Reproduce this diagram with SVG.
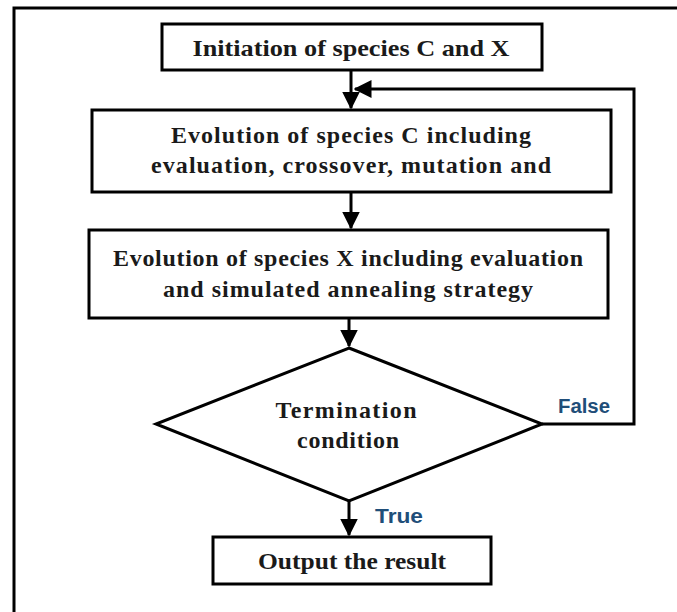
<svg xmlns="http://www.w3.org/2000/svg" width="677" height="612" viewBox="0 0 677 612">
<defs>
<style>
.box{fill:#fff;stroke:#000;stroke-width:3}
.frame{fill:none;stroke:#000;stroke-width:3}
.t{font-family:"Liberation Serif","Times New Roman",serif;font-weight:bold;font-size:24px;fill:#1a1a1a;text-anchor:middle}
.lbl{font-family:"Liberation Sans",Arial,sans-serif;font-weight:bold;font-size:20px;fill:#1f4e79}
.c{fill:none;stroke:#000;stroke-width:3}
</style>
<marker id="ah" markerWidth="6" markerHeight="6" refX="5.5" refY="3" orient="auto" markerUnits="strokeWidth" viewBox="0 0 6 6">
<path d="M0,0 L6,3 L0,6 Z" fill="#000"/>
</marker>
</defs>
<rect width="677" height="612" fill="#fff"/>
<path class="frame" d="M14,620 V8 H690"/>
<g id="connectors">
<line class="c" x1="351" y1="70" x2="351" y2="108" marker-end="url(#ah)"/>
<polyline class="c" points="542,424 634,424 634,89 355,89" marker-end="url(#ah)"/>
<line class="c" x1="351" y1="192" x2="351" y2="228" marker-end="url(#ah)"/>
<line class="c" x1="349" y1="318" x2="349" y2="346" marker-end="url(#ah)"/>
<line class="c" x1="349" y1="501" x2="349" y2="535" marker-end="url(#ah)"/>
<text class="lbl" x="558" y="413" textLength="52" lengthAdjust="spacingAndGlyphs">False</text>
<text class="lbl" x="375" y="523" textLength="48" lengthAdjust="spacingAndGlyphs">True</text>
</g>
<g id="init">
<rect class="box" x="162" y="24" width="380" height="46"/>
<text class="t" x="351" y="56" textLength="317" lengthAdjust="spacingAndGlyphs">Initiation of species C and X</text>
</g>
<g id="evoC">
<rect class="box" x="92" y="110" width="519" height="82"/>
<text class="t" x="351" y="143" textLength="360" lengthAdjust="spacing">Evolution of species C including</text>
<text class="t" x="351" y="173" textLength="400" lengthAdjust="spacing">evaluation, crossover, mutation and</text>
</g>
<g id="evoX">
<rect class="box" x="89" y="230" width="519" height="88"/>
<text class="t" x="348" y="266" textLength="470" lengthAdjust="spacing">Evolution of species X including evaluation</text>
<text class="t" x="348" y="297" textLength="370" lengthAdjust="spacing">and simulated annealing strategy</text>
</g>
<g id="term">
<polygon class="box" points="349,348 542,424 349,501 156,424"/>
<text class="t" x="346" y="418" textLength="141" lengthAdjust="spacing">Termination</text>
<text class="t" x="348" y="448" textLength="102" lengthAdjust="spacing">condition</text>
</g>
<g id="output">
<rect class="box" x="213" y="537" width="278" height="47"/>
<text class="t" x="352" y="569" textLength="188" lengthAdjust="spacingAndGlyphs">Output the result</text>
</g>
</svg>
